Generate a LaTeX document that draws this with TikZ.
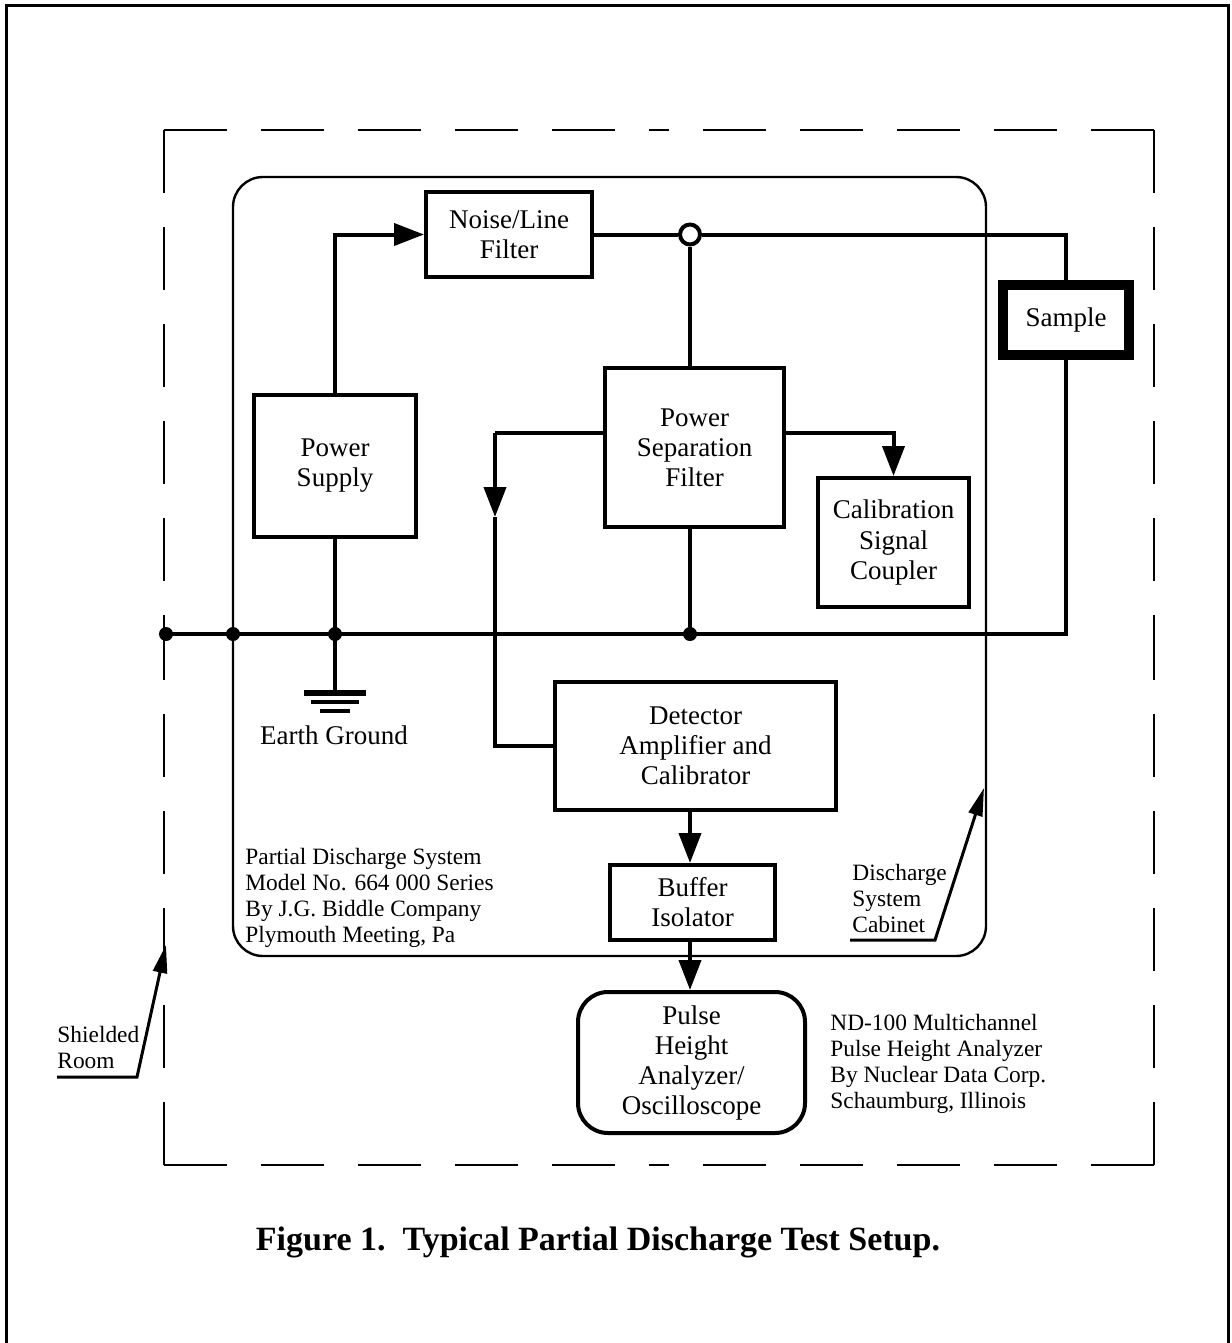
\documentclass[tikz,border=0pt]{standalone}
\usepackage{fontspec}
\setmainfont{Liberation Serif}
\usetikzlibrary{arrows.meta,calc}
\newcommand\mainfs{\fontsize{13.5}{15}\selectfont}
\newcommand\notefs{\fontsize{11.7}{13}\selectfont}
\begin{document}
\begin{tikzpicture}[x=0.5pt,y=-0.5pt,
  box/.style={draw,line width=2pt,align=center,inner sep=0pt,font=\mainfs},
  wire/.style={line width=2pt},
  arr/.style={-{Triangle[length=15pt,width=11pt]}},
  thinarr/.style={-{Triangle[length=14pt,width=7pt]}},
  dot/.style={circle,fill,inner sep=0pt,minimum size=7pt},
  note/.style={align=left,font=\notefs,inner sep=0pt},
  dashbox/.style={line width=1.2pt,dash pattern=on 31.5pt off 17pt}
]
\useasboundingbox (0,0) rectangle (1231,1343);
% page frame
\draw[line width=1.5pt] (6,1343) -- (6,6) -- (1228,6) -- (1228,1343);
% shielded room (dashed)
\coordinate (dTL) at (164,130);
\coordinate (dTR) at (1154,130);
\coordinate (dBR) at (1154,1165);
\coordinate (dBL) at (164,1165);
\draw[dashbox] (dTL) -- ($(dTL)!0.5!(dTR)$);
\draw[dashbox] (dTR) -- ($(dTL)!0.5!(dTR)$);
\draw[dashbox] (dTR) -- ($(dTR)!0.5!(dBR)$);
\draw[dashbox] (dBR) -- ($(dTR)!0.5!(dBR)$);
\draw[dashbox] (dBR) -- ($(dBR)!0.5!(dBL)$);
\draw[dashbox] (dBL) -- ($(dBR)!0.5!(dBL)$);
\draw[dashbox] (dBL) -- ($(dBL)!0.5!(dTL)$);
\draw[dashbox] (dTL) -- ($(dBL)!0.5!(dTL)$);
% cabinet
\node[draw,line width=1.2pt,rounded corners=15pt,minimum width=376.5pt,minimum height=389.5pt,inner sep=0pt] (cab) at (609.5,566.5) {};
% boxes
\node[box,minimum width=83pt,minimum height=42.5pt] (noise) at (509,234.5) {Noise/Line\\Filter};
\node[box,minimum width=81pt,minimum height=71pt] (psu) at (335,466) {Power\\Supply};
\node[box,minimum width=89.5pt,minimum height=79.5pt] (psf) at (694.5,447.5) {Power\\Separation\\Filter};
\node[box,minimum width=75.5pt,minimum height=64.5pt] (cal) at (893.5,542.5) {Calibration\\Signal\\Coupler};
\node[box,minimum width=140.5pt,minimum height=64pt] (det) at (695.5,746) {Detector\\Amplifier and\\Calibrator};
\node[box,minimum width=82.5pt,minimum height=37.5pt] (buf) at (692.5,902.5) {Buffer\\Isolator};
\node[box,rounded corners=15pt,minimum width=113.5pt,minimum height=70.5pt] (pha) at (691.5,1062.5) {Pulse\\Height\\Analyzer/\\Oscilloscope};
\node[draw,line width=5pt,font=\mainfs,inner sep=0pt,minimum width=63pt,minimum height=35pt] (sample) at (1066,320) {Sample};
% junction
\node[circle,draw,line width=2pt,fill=white,inner sep=0pt,minimum size=10pt] (junc) at (690,234.5) {};
% bus dots
\node[dot] (d1) at (166,634) {};
\node[dot] (d2) at (233,634) {};
\node[dot] (d3) at (335,634) {};
\node[dot] (d4) at (690,634) {};
\coordinate (busR) at (1066,634);
\coordinate (gnd) at (335,693);
% wires
\draw[wire,arr] (psu.north) |- (noise.west);
\draw[wire] (noise.east) -- (junc.west);
\draw[wire] (junc.east) -| (sample.north);
\draw[wire] (junc.south) -- (junc.south |- psf.north);
\draw[wire] (d4.center |- psf.south) -- (d4.center);
\draw[wire] (d1.center) -- (busR) -- (sample.south);
\draw[wire] (psu.south) -- (gnd);
\draw[line width=2.6pt] ($(gnd)+(-31,0)$) -- ($(gnd)+(31,0)$);
\draw[line width=2.4pt] ($(gnd)+(-24,9)$) -- ($(gnd)+(24,9)$);
\draw[line width=2.4pt] ($(gnd)+(-15,18)$) -- ($(gnd)+(15,18)$);
\node[font=\mainfs,inner sep=0pt] (eg) at (334,735) {Earth Ground};
% left branch
\coordinate (lb) at (495,433);
\coordinate (la) at (495,517);
\draw[wire] (psf.west |- lb) -- (lb);
\draw[wire,arr] (lb) -- (la);
\draw[wire] (la) |- (det.west);
% right branch
\draw[wire,arr] (psf.east |- lb) -| (cal.north);
% down chain
\draw[wire,arr] (det.south -| junc) -- (buf.north -| junc);
\draw[wire,arr] (buf.south -| junc) -- (pha.north -| junc);
% notes
\node[note,anchor=west] (pds) at (245,898) {Partial Discharge System\\Model No. 664 000 Series\\By J.G. Biddle Company\\Plymouth Meeting, Pa};
\node[note,anchor=west] (nd) at (830,1064) {ND-100 Multichannel\\Pulse Height Analyzer\\By Nuclear Data Corp.\\Schaumburg, Illinois};
\node[note,anchor=west] (dsc) at (852,898) {Discharge\\System\\Cabinet};
\coordinate (c1) at (850,940);
\coordinate (c2) at (935,940);
\coordinate (c3) at (984,788);
\draw[line width=1.5pt,thinarr] (c1) -- (c2) -- (c3);
\node[note,anchor=west] (sr) at (57,1047) {Shielded\\Room};
\coordinate (s1) at (57,1077);
\coordinate (s2) at (137,1077);
\coordinate (s3) at (166,945);
\draw[line width=1.5pt,thinarr] (s1) -- (s2) -- (s3);
% caption
\node[font=\fontsize{17}{19}\selectfont\bfseries,inner sep=0pt] (cap) at (598,1242) {Figure 1.\ \ Typical Partial Discharge Test Setup.};
\end{tikzpicture}
\end{document}
